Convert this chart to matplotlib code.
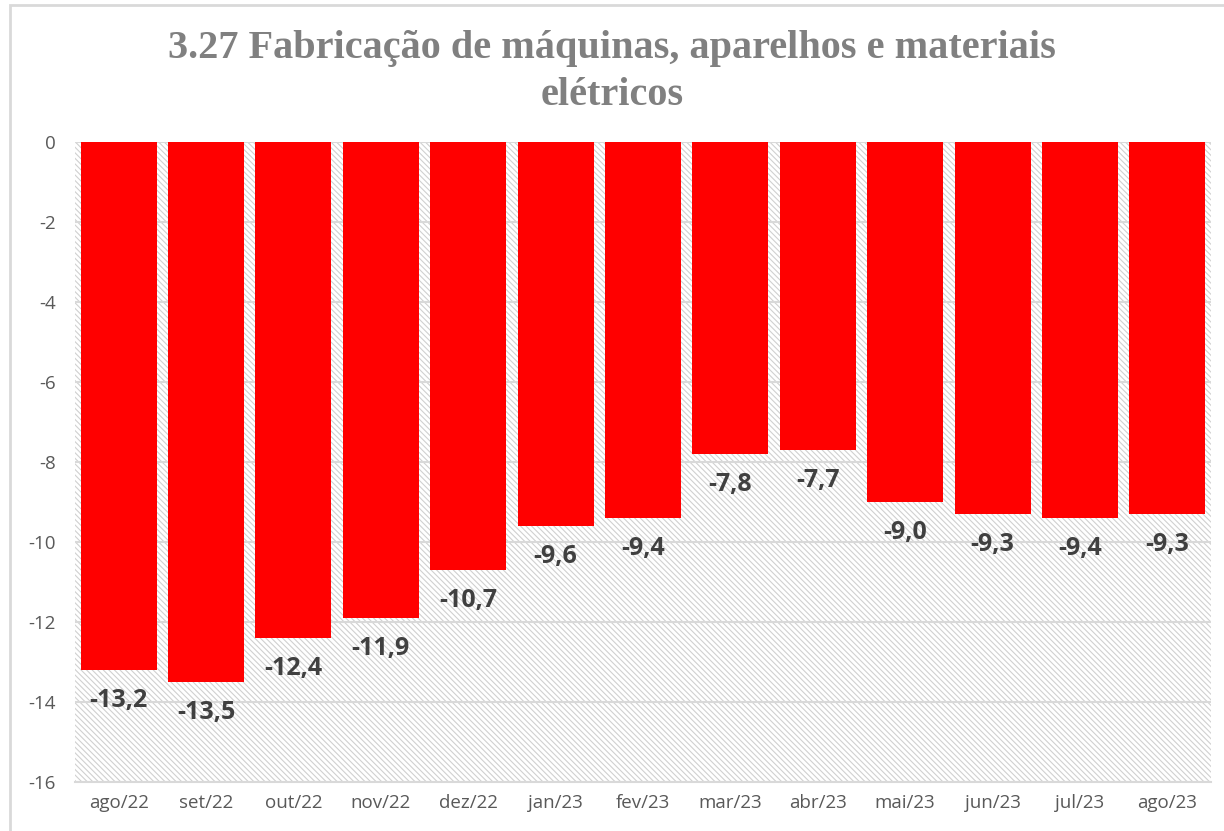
import numpy as np
import matplotlib.pyplot as plt
from matplotlib.patches import Rectangle

meses = ["ago/22", "set/22", "out/22", "nov/22", "dez/22", "jan/23", "fev/23",
         "mar/23", "abr/23", "mai/23", "jun/23", "jul/23", "ago/23"]
valores = [-13.2, -13.5, -12.4, -11.9, -10.7, -9.6, -9.4,
           -7.8, -7.7, -9.0, -9.3, -9.4, -9.3]
yticks = [0, -2, -4, -6, -8, -10, -12, -14, -16]
titulo = "3.27 Fabricação de máquinas, aparelhos e materiais\nelétricos"

plt.rcParams["hatch.linewidth"] = 0.8
plt.rcParams["hatch.color"] = "#d0d0d0"
plt.rcParams["axes.unicode_minus"] = False

fig = plt.figure(figsize=(12.24, 8.31), dpi=100)
W, H = 1224, 831
ax = fig.add_axes([75 / W, 1 - 782 / H, (1211 - 75) / W, (782 - 142) / H])

# moldura do grafico (cortada a direita e embaixo)
fig.patches.append(Rectangle((10 / W, -0.1), 1.2, 1 - 5 / H + 0.1, transform=fig.transFigure,
                             fill=False, edgecolor="#d9d9d9", linewidth=2))

# fundo hachurado da area de plotagem
ax.add_patch(Rectangle((0, 0), 1, 1, transform=ax.transAxes, facecolor="white",
                       edgecolor="#d0d0d0", hatch="\\\\\\\\\\\\", linewidth=0, zorder=0))

x = np.arange(len(meses))
ax.set_xlim(-0.5, len(meses) - 0.5)
ax.set_ylim(-16, 0)
ax.set_yticks(yticks)
ax.grid(axis="y", color="#d9d9d9", linewidth=1.5, zorder=1)
ax.set_axisbelow(True)

ax.bar(x, valores, width=0.87, color="#ff0000", zorder=2)

for xi, v in zip(x, valores):
    ax.annotate(f"{v:.1f}".replace(".", ","), (xi, v), xytext=(0, -13),
                textcoords="offset points", ha="center", va="top",
                fontsize=18, fontweight="bold", color="#404040", family="Open Sans")

ax.set_xticks(x)
ax.set_xticklabels(meses)
for lab in ax.get_xticklabels() + ax.get_yticklabels():
    lab.set_family("Open Sans")
    lab.set_fontsize(13.5)
    lab.set_color("#595959")
ax.tick_params(length=0)
ax.tick_params(axis="y", pad=14)
ax.tick_params(axis="x", pad=9)

for s in ["top", "right", "left"]:
    ax.spines[s].set_visible(False)
ax.spines["bottom"].set_color("#d9d9d9")
ax.spines["bottom"].set_linewidth(1.5)

fig.text(0.5, 1 - 72 / H, titulo, ha="center", va="center", fontsize=29,
         fontweight="bold", color="#808080", family="Liberation Serif", linespacing=1.35)

fig.savefig("out.png", dpi=100)
